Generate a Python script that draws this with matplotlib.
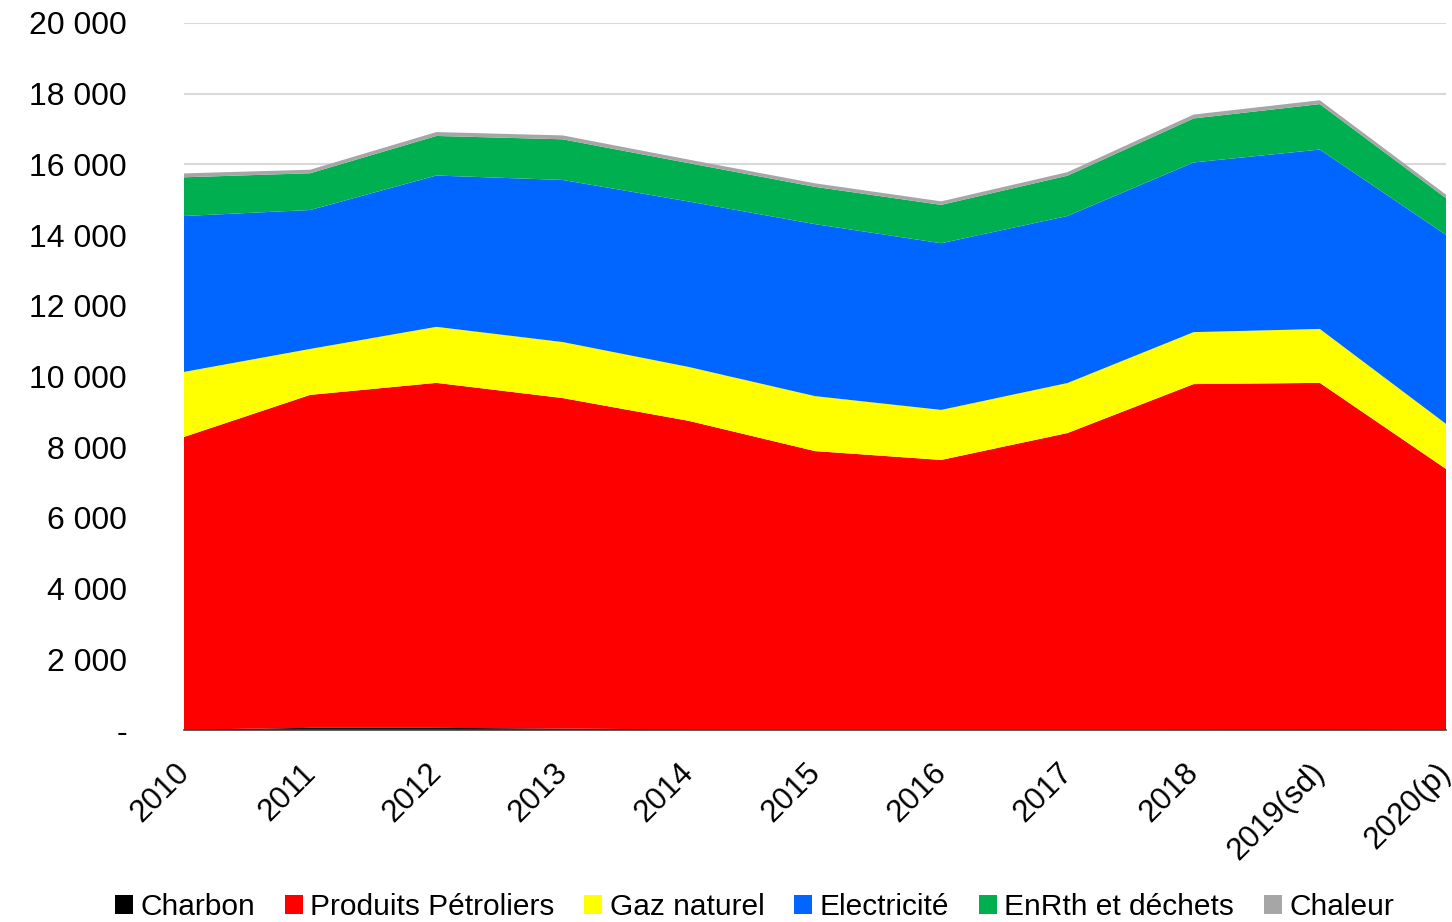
import matplotlib
matplotlib.use("Agg")
import matplotlib.pyplot as plt
from matplotlib.patches import Patch
from matplotlib.ticker import FuncFormatter
import matplotlib.transforms as mtransforms

plt.rcParams['font.family'] = ['Liberation Sans', 'DejaVu Sans']

years = ["2010", "2011", "2012", "2013", "2014", "2015", "2016", "2017", "2018", "2019(sd)", "2020(p)"]
charbon = [10, 60, 60, 40, 15, 10, 10, 10, 15, 20, 10]
petroliers = [8280, 9420, 9760, 9350, 8730, 7880, 7630, 8390, 9770, 9800, 7375]
gaz = [1840, 1300, 1585, 1585, 1525, 1555, 1415, 1415, 1470, 1525, 1275]
electricite = [4410, 3930, 4280, 4585, 4680, 4865, 4715, 4725, 4800, 5075, 5345]
enrth = [1095, 1040, 1120, 1150, 1085, 1055, 1085, 1140, 1245, 1285, 1040]
chaleur = [110, 100, 110, 110, 100, 100, 100, 100, 110, 110, 100]

labels = ["Charbon", "Produits Pétroliers", "Gaz naturel", "Electricité", "EnRth et déchets", "Chaleur"]
colors = ["#000000", "#FF0000", "#FFFF00", "#0066FF", "#00B050", "#A6A6A6"]

fig = plt.figure(figsize=(14.52, 9.22), dpi=100)
ax = fig.add_axes([184/1452, 1-730/922, (1446-184)/1452, (730-23)/922])

x = list(range(len(years)))
ax.stackplot(x, charbon, petroliers, gaz, electricite, enrth, chaleur,
             colors=colors, linewidth=0, zorder=2)

ax.set_xlim(0, len(years)-1)
ax.set_ylim(0, 20000)
ax.set_yticks(range(0, 20001, 2000))

def fmt(v, pos):
    if v == 0:
        return "-"
    return f"{int(v):,}".replace(",", " ")
ax.yaxis.set_major_formatter(FuncFormatter(fmt))

ax.grid(axis='y', color='#D9D9D9', linewidth=1.5, zorder=0)
ax.set_axisbelow(True)
for s in ['top', 'right', 'left']:
    ax.spines[s].set_visible(False)
ax.spines['bottom'].set_color('#404040')
ax.spines['bottom'].set_linewidth(1.2)
ax.spines['bottom'].set_zorder(5)

ax.tick_params(axis='y', length=0, pad=41, labelsize=23, labelcolor='#000000')
ax.tick_params(axis='x', length=0, pad=20, labelsize=22.5, labelcolor='#000000')
ax.set_xticks(x)
ax.set_xticklabels(years, rotation=45, ha='right', va='top', rotation_mode='anchor')
offset = mtransforms.ScaledTranslation(-10/100, 0, fig.dpi_scale_trans)
for lab in ax.get_xticklabels():
    lab.set_transform(lab.get_transform() + offset)

handles = [Patch(facecolor=c, edgecolor='none', label=l) for c, l in zip(colors, labels)]
fig.legend(handles=handles, loc='center', bbox_to_anchor=(754.5/1452, 1-907/922),
           ncol=6, frameon=False, fontsize=21.5, handlelength=0.6, handleheight=0.6,
           handletextpad=0.25, columnspacing=1.0, borderpad=0)

fig.savefig("out.png", dpi=100)
